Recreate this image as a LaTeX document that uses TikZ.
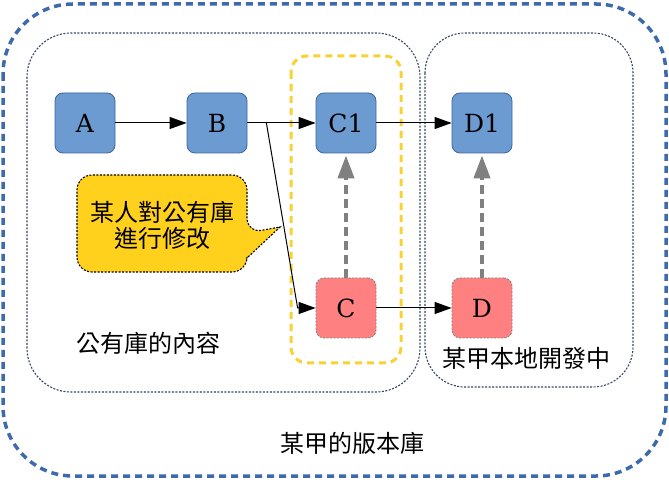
\documentclass[tikz,border=0pt]{standalone}
\usepackage{fontspec}
\setmainfont{DejaVu Serif}
\newfontfamily\cjk{Noto Sans CJK TC}
\usetikzlibrary{arrows.meta,calc}
\definecolor{repoBlue}{RGB}{61,106,173}
\definecolor{commitBlue}{RGB}{108,155,210}
\definecolor{commitEdge}{RGB}{62,100,160}
\definecolor{commitRed}{RGB}{255,128,128}
\definecolor{noteYellow}{RGB}{255,209,28}
\definecolor{markYellow}{RGB}{247,210,50}
\definecolor{frameGray}{RGB}{55,68,100}

\begin{document}
\begin{tikzpicture}[x=0.5pt, y=-0.5pt,
    commit/.style={draw=commitEdge, fill=commitBlue, rounded corners=4pt, minimum size=30pt, inner sep=0pt, font=\fontsize{12.5}{15}\selectfont},
    newcommit/.style={commit, draw=gray, dash pattern=on 1pt off 0.75pt, fill=commitRed},
    frame/.style={draw=frameGray, dash pattern=on 1pt off 0.75pt, line width=0.55pt},
    tag/.style={font=\cjk\fontsize{12}{13}\selectfont, inner sep=0pt},
    flow/.style={-{Triangle[length=8.5pt,width=6pt]}, line width=0.5pt},
    merge/.style={-{Triangle[length=11.5pt,width=8pt]}, gray, line width=2pt, dash pattern=on 4.5pt off 2.5pt, shorten >=1pt}]
    \useasboundingbox (0,0) rectangle (669,480);
    % repository frames
    \draw[repoBlue, line width=1.75pt, dash pattern=on 3.5pt off 2.5pt, rounded corners=35pt] (3,4) rectangle (666,476);
    \draw[frame, rounded corners=22pt] (27,33) rectangle (420,392);
    \draw[frame, rounded corners=20pt] (425,33) rectangle (633,387);
    \draw[markYellow, line width=1.5pt, dash pattern=on 3.5pt off 2.5pt, rounded corners=8pt] (291,56) rectangle (401,363);
    % commits
    \foreach \n/\x in {A/85,B/217,C1/346,D1/482}
        \node[commit] (\n) at (\x,123) {\n};
    \node[newcommit] (C) at (346,308) {C};
    \node[newcommit] (D) at (482,308) {D};
    \draw[flow] (A) -- (B);
    \draw[flow] (B) -- (C1);
    \draw[flow] (C1) -- (D1);
    \draw[flow] (C) -- (D);
    \coordinate (fork) at ($(B.east)+(19,0)$);
    \coordinate (bend) at ($(C.west)+(-18,0)$);
    \draw[flow] (fork) -- (bend) -- (C.west);
    \draw[merge] (C) -- (C1);
    \draw[merge] (D) -- (D1);
    % note
    \draw[fill=noteYellow, dash pattern=on 1pt off 0.75pt, line width=0.55pt] (160,272) [rounded corners=7.5pt] -- (77,272) -- (77,175) -- (247,175) -- (247,233) [sharp corners] -- (280,227) -- (247,258) [rounded corners=7.5pt] -- (247,272) -- cycle;
    \node[tag, align=center] (note) at (162,225) {某人對公有庫\\進行修改};
    % labels
    \node[tag] (public) at (148,343) {公有庫的內容};
    \node[tag] (local) at (526,358) {某甲本地開發中};
    \node[tag] (repo) at (352,443) {某甲的版本庫};
\end{tikzpicture}
\end{document}
